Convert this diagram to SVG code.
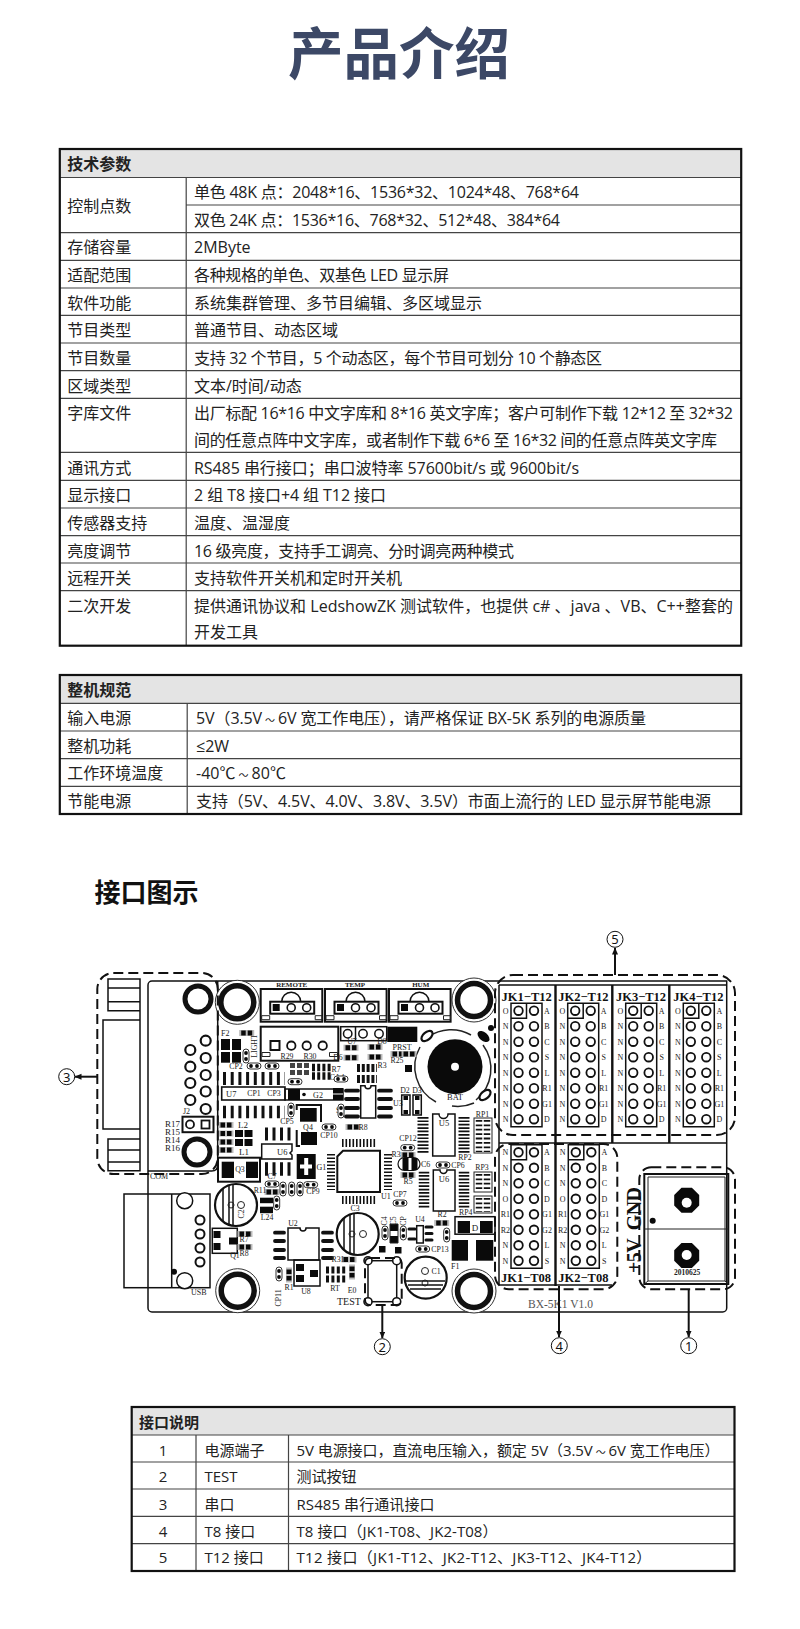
<svg xmlns="http://www.w3.org/2000/svg" width="800" height="1629" viewBox="0 0 800 1629">
<style>
text{font-family:"Open Sans","Noto Sans CJK SC","Noto Sans",sans-serif;font-size:16px;fill:#222}
.h{font-weight:700;font-family:"Noto Sans CJK SC",sans-serif;fill:#222}
.t3{font-size:15px}
.c{text-anchor:middle}
.til{font-size:10px}
.frame{fill:none;stroke:#111;stroke-width:2.2}
.grid{fill:none;stroke:#444;stroke-width:1.2}
.head{fill:#e4e4e4}
.s{font-family:"Liberation Serif",serif;font-size:8px;fill:#222}
.sm{font-family:"Liberation Serif",serif;font-size:7.8px;fill:#222;text-anchor:middle}
.m{text-anchor:middle}
.jk{font-family:"Liberation Serif",serif;font-weight:700;font-size:12.5px;fill:#111;text-anchor:middle}
.l{fill:none;stroke:#111;stroke-width:1.5}
.th{fill:none;stroke:#111;stroke-width:2}
.thin{fill:none;stroke:#222;stroke-width:1}
.k{fill:#0a0a0a}
.dash{fill:none;stroke:#111;stroke-width:2;stroke-dasharray:10 5}
.arrow{fill:none;stroke:#111;stroke-width:2}
.num{fill:#fff;stroke:#111;stroke-width:1}
.numt{font-family:"Noto Sans",sans-serif;font-size:13px;text-anchor:middle;fill:#111}
.comb{fill:none;stroke:#111}
</style>
<defs>
<marker id="ah" markerWidth="8" markerHeight="8" refX="6.5" refY="3" orient="auto" markerUnits="userSpaceOnUse"><path d="M0,0L7,3L0,6z" fill="#111"/></marker>
<g id="pins8">
<g fill="#fff" stroke="#111" stroke-width="1.8">
<circle cx="7.5" cy="0" r="4.3"/><circle cx="23" cy="0" r="4.3"/>
<circle cx="7.5" cy="15.5" r="4.3"/><circle cx="23" cy="15.5" r="4.3"/>
<circle cx="7.5" cy="31" r="4.3"/><circle cx="23" cy="31" r="4.3"/>
<circle cx="7.5" cy="46.5" r="4.3"/><circle cx="23" cy="46.5" r="4.3"/>
<circle cx="7.5" cy="62" r="4.3"/><circle cx="23" cy="62" r="4.3"/>
<circle cx="7.5" cy="77.5" r="4.3"/><circle cx="23" cy="77.5" r="4.3"/>
<circle cx="7.5" cy="93" r="4.3"/><circle cx="23" cy="93" r="4.3"/>
<circle cx="7.5" cy="108.5" r="4.3"/><circle cx="23" cy="108.5" r="4.3"/>
</g>
<path class="l" d="M0-7.5H31V116H0zM0 7.5H15.5V-7.5"/>
</g>
<g id="conn3">
<rect class="th" x="0" y="0" width="61.6" height="32.7"/>
<path class="l" d="M21 12.7a9.5 9.5 0 0 1 19 0"/>
<rect class="th" x="9.5" y="12.7" width="44" height="12"/>
<rect class="k" x="12" y="15" width="7" height="7"/>
<circle cx="30.5" cy="18.7" r="4" fill="#fff" stroke="#111" stroke-width="1.6"/>
<circle cx="46" cy="18.7" r="4" fill="#fff" stroke="#111" stroke-width="1.6"/>
<path class="thin" d="M1 26.7h8v4h-8zM54.5 26.7h7v4h-7z"/>
</g>
<g id="hole">
<circle r="22" fill="#fff" stroke="#333" stroke-width="1"/>
<circle r="16.5" fill="none" stroke="#111" stroke-width="5.5"/>
</g>
<g id="pillH"><rect x="-7" y="-3" width="14" height="6" rx="3" fill="#fff" stroke="#333" stroke-width="1"/><circle cx="-3" r="1.9" class="k"/><circle cx="3" r="1.9" class="k"/></g>
<g id="pillV"><rect x="-3" y="-7" width="6" height="14" rx="3" fill="#fff" stroke="#333" stroke-width="1"/><circle cy="-3" r="1.9" class="k"/><circle cy="3" r="1.9" class="k"/></g>
<g id="padH"><rect x="-7.5" y="-3" width="15" height="6" fill="#bbb"/><rect x="-5.5" y="-2.5" width="4.5" height="5" class="k"/><rect x="1" y="-2.5" width="4.5" height="5" class="k"/></g>
<g id="padV"><rect x="-3" y="-7.5" width="6" height="15" fill="#bbb"/><rect x="-2.5" y="-5.5" width="5" height="4.5" class="k"/><rect x="-2.5" y="1" width="5" height="4.5" class="k"/></g>
</defs>
<rect width="800" height="1629" fill="#fff"/>

<text id="title" x="399" y="74" class="c" style="font-family:'Noto Sans CJK SC',sans-serif;font-size:55.5px;font-weight:700;fill:#3c4866">产品介绍</text>

<g id="table-spec">
<rect class="head" x="59.8" y="149" width="681.4" height="28.5"/>
<path class="grid" d="M59.8 177.5H741M186.2 205H741M59.8 232.7H741M59.8 260.3H741M59.8 288H741M59.8 315.3H741M59.8 343H741M59.8 370.7H741M59.8 398.3H741M59.8 452.3H741M59.8 480.3H741M59.8 508H741M59.8 535.7H741M59.8 563H741M59.8 590.7H741M186.2 177.5V645.7"/>
<rect class="frame" x="59.8" y="149" width="681.4" height="496.7"/>
<text class="h" x="67.3" y="170">技术参数</text>
<text x="67.3" y="212">控制点数</text>
<text x="194" y="198" textLength="385">单色 48K 点：2048*16、1536*32、1024*48、768*64</text>
<text x="194" y="225.6" textLength="366">双色 24K 点：1536*16、768*32、512*48、384*64</text>
<text x="67.3" y="253">存储容量</text><text x="194" y="253">2MByte</text>
<text x="67.3" y="281">适配范围</text><text x="194" y="281" textLength="255">各种规格的单色、双基色 LED 显示屏</text>
<text x="67.3" y="309">软件功能</text><text x="194" y="309">系统集群管理、多节目编辑、多区域显示</text>
<text x="67.3" y="336">节目类型</text><text x="194" y="336">普通节目、动态区域</text>
<text x="67.3" y="364">节目数量</text><text x="194" y="364" textLength="408">支持 32 个节目，5 个动态区，每个节目可划分 10 个静态区</text>
<text x="67.3" y="391.5">区域类型</text><text x="194" y="391.5">文本/时间/动态</text>
<text x="67.3" y="419">字库文件</text><text x="194" y="419" textLength="539">出厂标配 16*16 中文字库和 8*16 英文字库；客户可制作下载 12*12 至 32*32</text>
<text x="194" y="446" textLength="523">间的任意点阵中文字库，或者制作下载 6*6 至 16*32 间的任意点阵英文字库</text>
<text x="67.3" y="473.5">通讯方式</text><text x="194" y="473.5" textLength="385">RS485 串行接口；串口波特率 57600bit/s 或 9600bit/s</text>
<text x="67.3" y="501">显示接口</text><text x="194" y="501" textLength="192">2 组 T8 接口+4 组 T12 接口</text>
<text x="67.3" y="529">传感器支持</text><text x="194" y="529">温度、温湿度</text>
<text x="67.3" y="556.5">亮度调节</text><text x="194" y="556.5" textLength="320">16 级亮度，支持手工调亮、分时调亮两种模式</text>
<text x="67.3" y="584">远程开关</text><text x="194" y="584">支持软件开关机和定时开关机</text>
<text x="67.3" y="612">二次开发</text><text x="194" y="612" textLength="539">提供通讯协议和 LedshowZK 测试软件，也提供 c# 、java 、VB、C++整套的</text>
<text x="194" y="638">开发工具</text>
</g>

<g id="table-machine">
<rect class="head" x="59.8" y="675" width="681.4" height="28.5"/>
<path class="grid" d="M59.8 703.3H741M59.8 731H741M59.8 758.7H741M59.8 786.3H741M187.2 703.3V814"/>
<rect class="frame" x="59.8" y="675" width="681.4" height="139"/>
<text class="h" x="67.3" y="696">整机规范</text>
<text x="67.3" y="724">输入电源</text><text x="196" y="724" textLength="450">5V（3.5V<tspan class="til" dx="3">～</tspan><tspan dx="3">6V 宽工作电压），请严格保证 BX-5K 系列的电源质量</tspan></text>
<text x="67.3" y="751.5">整机功耗</text><text x="196" y="751.5">≤2W</text>
<text x="67.3" y="779">工作环境温度</text><text x="196" y="779" textLength="90">-40℃<tspan class="til" dx="3">～</tspan><tspan dx="3">80℃</tspan></text>
<text x="67.3" y="807">节能电源</text><text x="196" y="807" textLength="515">支持（5V、4.5V、4.0V、3.8V、3.5V）市面上流行的 LED 显示屏节能电源</text>
</g>

<text id="section" x="94.4" y="902" style="font-family:'Noto Sans CJK SC',sans-serif;font-size:26px;font-weight:700;fill:#111">接口图示</text>

<g id="pcb">
<path class="l" d="M148 985a4 4 0 0 1 4-4H726.7V1308a4 4 0 0 1-4 4H152a4 4 0 0 1-4-4z"/>
<path class="l" d="M217.7 981V1165q0 6-6 6H148"/>
<!-- DB9 -->
<path class="l" d="M108 979H140V1010.7H108zM108 988H140M108 1001.7H140M103 1020H140V1129H103zM108 1139H140V1170.7H108zM108 1150H140M108 1162H140M140 979V1171"/>
<g fill="none" stroke="#111" stroke-width="2.2">
<circle cx="190.3" cy="1050" r="5"/><circle cx="190.3" cy="1066.7" r="5"/><circle cx="190.3" cy="1083" r="5"/><circle cx="190.3" cy="1100" r="5"/>
<circle cx="205.7" cy="1040.7" r="5"/><circle cx="205.7" cy="1058" r="5"/><circle cx="205.7" cy="1075" r="5"/><circle cx="205.7" cy="1091.5" r="5"/><circle cx="205.7" cy="1109" r="5"/>
</g>
<circle cx="198" cy="999" r="13" fill="none" stroke="#111" stroke-width="5"/>
<circle cx="197" cy="1152" r="13" fill="none" stroke="#111" stroke-width="5"/>
<rect class="th" x="182.5" y="1116.7" width="31" height="15.5"/>
<circle cx="190" cy="1124.4" r="4" fill="none" stroke="#111" stroke-width="1.8"/><rect x="201.5" y="1120.5" width="8" height="8" fill="none" stroke="#111" stroke-width="1.8"/>
<text class="s" x="183" y="1114">J2</text>
<text class="s" x="165" y="1127" style="font-size:9px">R17</text><text class="s" x="165" y="1135" style="font-size:9px">R15</text><text class="s" x="165" y="1143" style="font-size:9px">R14</text><text class="s" x="165" y="1151" style="font-size:9px">R16</text>
<text class="s" x="150" y="1179">COM</text>
<!-- mounting holes -->
<use href="#hole" x="237.3" y="1002.3"/><use href="#hole" x="474" y="1000"/><use href="#hole" x="237.7" y="1290.7"/><use href="#hole" x="474" y="1291"/>
<!-- 3-pin connectors -->
<use href="#conn3" x="260.7" y="989"/><use href="#conn3" x="325" y="989"/><use href="#conn3" x="389" y="989"/>
<text class="sm" x="291.7" y="987" style="font-weight:700;font-size:7px">REMOTE</text><text class="sm" x="355" y="987" style="font-weight:700;font-size:7px">TEMP</text><text class="sm" x="420.7" y="987" style="font-weight:700;font-size:7px">HUM</text>
<!-- 4-pin connector -->
<rect class="th" x="260.7" y="1026.7" width="77.6" height="34"/>
<rect x="270.5" y="1041" width="9" height="9" fill="none" stroke="#111" stroke-width="2"/>
<g fill="none" stroke="#111" stroke-width="1.8"><circle cx="291.3" cy="1045.7" r="4.2"/><circle cx="306.7" cy="1045.7" r="4.2"/><circle cx="322.7" cy="1045.7" r="4.2"/></g>
<path class="thin" d="M262 1052.5h8v4h-8zM329.5 1052.5h8v4h-8z"/>
<text class="sm" x="0" y="0" transform="translate(257 1046) rotate(-90)">LIGHT</text>
<text class="sm" x="287" y="1059">R29</text><text class="sm" x="310" y="1059">R30</text>
<rect class="l" x="340.7" y="1026.7" width="46" height="14"/><path class="l" d="M355.5 1026.7v14"/>
<g fill="none" stroke="#111" stroke-width="1.5"><circle cx="347.7" cy="1033.7" r="4.2"/><circle cx="363" cy="1033.7" r="4.2"/><circle cx="379" cy="1033.7" r="4.2"/></g>
<rect class="k" x="387.3" y="1026.7" width="30" height="15.3"/>
<!-- buzzer -->
<circle class="k" cx="455" cy="1066.7" r="27.5"/><circle cx="455" cy="1066.7" r="4" fill="#fff"/>
<path class="thin" style="stroke-width:1.5" d="M420 1047a40 40 0 0 0 16 55M428 1037a40 40 0 0 1 43-2M483 1045a40 40 0 0 1-7 55M474 1103a40 40 0 0 1-22 3"/>
<ellipse cx="427" cy="1036" rx="6.5" ry="3.8" fill="#fff" stroke="#111" stroke-width="2.2" transform="rotate(-40 427 1036)"/>
<ellipse cx="483.5" cy="1036.5" rx="7" ry="4.2" class="k" transform="rotate(40 483.5 1036.5)"/>
<ellipse cx="485" cy="1095" rx="6.5" ry="3.8" fill="#fff" stroke="#111" stroke-width="2.2" transform="rotate(-40 485 1095)"/>
<circle class="k" cx="491" cy="1028" r="3"/>
<text class="s m" x="455" y="1100" style="font-size:8.5px">BAT</text>
<!-- upper-left SMD area -->
<text class="s" x="221" y="1036">F2</text><use href="#padH" x="246.7" y="1033"/>
<rect class="k" x="221" y="1039" width="9" height="11"/><rect class="k" x="232" y="1039" width="9" height="11"/><rect class="k" x="221" y="1052" width="9" height="10.7"/><rect class="k" x="232" y="1052" width="9" height="10.7"/>
<use href="#pillV" x="246" y="1056"/><text class="sm" x="236" y="1069">CP2</text><use href="#pillH" x="254" y="1066"/><use href="#pillH" x="272" y="1066"/>
<path class="comb" stroke-width="13" stroke-dasharray="3 4.7" d="M223 1078.5H285"/>
<rect class="th" x="221.7" y="1087" width="63.3" height="13" style="stroke-width:1.6"/>
<text class="s" x="226" y="1097" style="font-size:8.5px">U7</text><text class="sm" x="254" y="1096">CP1</text><text class="sm" x="274" y="1096">CP3</text>
<path class="comb" stroke-width="12.5" stroke-dasharray="3 4.7" d="M223 1112H285"/>
<rect class="l" x="285" y="1089" width="58" height="11"/><rect class="k" x="288" y="1089" width="12" height="11"/><circle class="k" cx="304" cy="1094.5" r="1.8"/><rect class="k" x="333" y="1088" width="10" height="12"/><path d="M333 1094h10" stroke="#fff" stroke-width="1"/>
<text class="s m" x="318" y="1098">G2</text>
<use href="#pillH" x="295" y="1081.7"/><use href="#pillV" x="291" y="1110"/><text class="sm" x="287" y="1124">CP5</text>
<g fill="#444"><rect x="290" y="1063" width="5" height="5"/><rect x="297" y="1063" width="5" height="5"/><rect x="304" y="1063" width="5" height="5"/><rect x="290" y="1070" width="5" height="5"/><rect x="297" y="1070" width="5" height="5"/><rect x="304" y="1070" width="5" height="5"/></g>
<path class="comb" stroke-width="7.5" stroke-dasharray="3 2.2" d="M312 1067.5H332M312 1076H332"/>
<text class="sm" x="336" y="1072">R7</text><text class="sm" x="337" y="1080">CA4</text><use href="#pillH" x="341" y="1079"/>
<path class="th" d="M296.7 1110V1105H321V1122M296.7 1130V1146H300"/>
<rect class="k" x="300" y="1108" width="16.7" height="13.7"/><rect class="k" x="301" y="1132" width="16" height="13"/>
<text class="s m" x="308" y="1130">Q4</text>
<text class="s m" x="243" y="1128" style="font-size:9px">L2</text>
<g class="k"><rect x="235" y="1130" width="8" height="7"/><rect x="244.5" y="1130" width="8" height="7"/><rect x="235" y="1139" width="8" height="7"/><rect x="244.5" y="1139" width="8" height="7"/></g>
<text class="s m" x="244" y="1155" style="font-size:9px">L1</text>
<use href="#padH" x="226" y="1125"/><use href="#padH" x="226" y="1133.5"/><use href="#padH" x="226" y="1142"/><use href="#padH" x="226" y="1150"/>
<path class="comb" stroke-width="13" stroke-dasharray="3 4.5" d="M265 1134H293"/>
<path class="l" d="M261.7 1147V1144H292V1151L290 1153L292 1155V1159H261.7z"/>
<text class="s" x="277" y="1155" style="font-size:8.5px">U6</text>
<path class="comb" stroke-width="13.5" stroke-dasharray="3 4.5" d="M265 1169H293"/>
<rect class="th" x="218" y="1157.7" width="42" height="24"/>
<rect class="k" x="221.7" y="1161.7" width="12.3" height="16.3"/><rect class="k" x="246" y="1161.7" width="12" height="16.3"/>
<text class="sm" x="240" y="1172">Q3</text>
<rect class="k" x="296.7" y="1154" width="19" height="25"/><path d="M306.2 1158V1175M300 1166.5H312" stroke="#fff" stroke-width="4" fill="none"/>
<text class="s" x="316.5" y="1170">G1</text>
<text class="sm" x="272" y="1179">C7</text><use href="#pillH" x="272" y="1184"/><use href="#padH" x="272" y="1192"/><text class="sm" x="260" y="1193">R11</text>
<use href="#pillV" x="283" y="1189"/><use href="#pillV" x="291.7" y="1189"/><use href="#pillV" x="300" y="1189"/><use href="#pillH" x="310.7" y="1184.7"/><text class="sm" x="313" y="1194">CP9</text>
<rect class="k" x="260" y="1197.7" width="13" height="5.5"/><rect class="k" x="260" y="1206.7" width="13" height="6.5"/>
<text class="sm" x="267" y="1220">L24</text><use href="#pillV" x="276.7" y="1203"/>
<!-- U1 -->
<path class="th" d="M343 1150.7H380V1192H337.3V1156.5z"/>
<path class="comb" stroke-width="8" stroke-dasharray="1.6 1.9" d="M342 1143H376M342 1200H376"/>
<path class="comb" stroke-width="8" stroke-dasharray="1.6 1.9" d="M331 1154V1190M388 1154V1190"/>
<text class="s" x="381" y="1199">U1</text>
<!-- U3 area -->
<path class="l" d="M360.7 1085.7H365a3 3 0 0 0 6 0H375.7V1118H360.7z"/>
<path d="M346 1090.7H358M346 1099H358M346 1108H358M346 1116.5H358M379 1090.7H391M379 1099H391M379 1108H391M379 1116.5H391" fill="none" stroke="#111" stroke-width="3.8" stroke-linecap="round"/>
<text class="s" x="393" y="1106">U3</text>
<text class="sm" x="340" y="1113">S6</text><use href="#pillV" x="341" y="1111"/><use href="#pillH" x="329" y="1127"/><use href="#padH" x="353" y="1127"/><text class="sm" x="363" y="1130">R8</text><text class="sm" x="329" y="1138">CP10</text>
<use href="#padH" x="351" y="1047.7"/><use href="#padH" x="351" y="1057.7"/><use href="#padH" x="375" y="1047"/><use href="#padH" x="375" y="1057"/>
<text class="sm" x="352" y="1044">U7</text><text class="sm" x="382" y="1044">D8</text><text class="sm" x="338" y="1060">D6</text>
<path class="comb" stroke-width="8" stroke-dasharray="3 1.8" d="M357 1068H377M357 1079H377"/>
<text class="sm" x="382" y="1068">R3</text>
<text class="sm" x="402" y="1050" style="font-size:8px">PRST</text><use href="#padH" x="398" y="1054"/><text class="sm" x="397" y="1063">R25</text><use href="#padH" x="409" y="1054"/><rect class="k" x="405" y="1065" width="7" height="7"/>
<rect class="l" x="401.7" y="1095" width="8.3" height="20"/><rect class="l" x="413" y="1095" width="8.3" height="20"/>
<rect class="k" x="403.5" y="1096" width="4.5" height="4"/><rect class="k" x="403.5" y="1110" width="4.5" height="4"/><rect class="k" x="415" y="1096" width="4.5" height="4"/><rect class="k" x="415" y="1110" width="4.5" height="4"/>
<text class="sm" x="405" y="1093">D2</text><text class="sm" x="417" y="1093">D3</text>
<!-- U5 -->
<path class="l" d="M432.7 1114H439a4 4 0 0 0 9 0H455V1156H432.7z"/><text class="s m" x="444" y="1126" style="font-size:8.5px">U5</text>
<path class="comb" stroke-width="11" stroke-dasharray="1.7 1.7" d="M423 1117V1154M464 1117V1154"/>
<text class="sm" x="408" y="1141">CP12</text><use href="#pillH" x="407.7" y="1147.7"/><use href="#padH" x="408" y="1155"/><text class="sm" x="396" y="1157">R3</text>
<rect x="398" y="1157.5" width="22" height="13" rx="6.5" fill="#fff" stroke="#111" stroke-width="1.2"/><rect class="k" x="402.5" y="1158" width="6" height="12"/><rect class="k" x="411.5" y="1158" width="6" height="12"/>
<text class="s" x="421" y="1167">C6</text><use href="#padH" x="408" y="1175"/><text class="sm" x="408" y="1184">R5</text>
<use href="#pillH" x="400" y="1203"/><text class="sm" x="400" y="1197">CP7</text>
<!-- U6 right -->
<use href="#pillH" x="443" y="1165"/><text class="sm" x="458" y="1168">CP6</text>
<path class="l" d="M433.3 1170H440a3.5 3.5 0 0 0 7 0H455V1211H433.3z"/><text class="s m" x="444" y="1182" style="font-size:8.5px">U6</text>
<path class="comb" stroke-width="10.5" stroke-dasharray="1.7 1.7" d="M424 1171.7V1209M464 1171.7V1209"/>
<text class="sm" x="482.5" y="1117">RP1</text><text class="sm" x="465" y="1160">RP2</text><text class="sm" x="482" y="1170">RP3</text><text class="sm" x="465.7" y="1215">RP4</text>
<rect class="thin" x="474" y="1118" width="18" height="35" fill="none"/><rect class="thin" x="474" y="1172" width="18" height="20"/><rect class="thin" x="474" y="1196" width="18" height="17"/>
<path class="comb" stroke-width="6.5" stroke-dasharray="1.8 2.6" d="M479 1120V1152M487 1120V1152M479 1174V1191M487 1174V1191M479 1198V1212M487 1198V1212"/>
<text class="sm" x="442" y="1217">R2</text><use href="#padH" x="441.7" y="1223"/>
<rect class="l" x="455" y="1216.7" width="40" height="17.5"/><rect class="k" x="457.7" y="1221" width="12.3" height="12"/><rect class="k" x="480" y="1221" width="12.7" height="12"/><text class="s m" x="475" y="1231" style="font-size:9px">D</text>
<rect class="k" x="451.7" y="1240" width="16.3" height="20.7"/><rect class="k" x="476" y="1240" width="17.3" height="20.7"/><text class="s" x="451" y="1269">F1</text>
<use href="#pillV" x="385" y="1233"/><use href="#pillV" x="403.3" y="1233"/>
<rect class="k" x="390" y="1224" width="8" height="7"/><rect class="k" x="390" y="1236" width="8" height="7"/><path class="thin" d="M390 1224h8v19h-8z"/>
<text class="sm" x="0" y="0" transform="translate(387 1221) rotate(-90)">C4</text><text class="sm" x="0" y="0" transform="translate(396 1221) rotate(-90)">C5</text><text class="sm" x="0" y="0" transform="translate(406 1221) rotate(-90)">CP</text>
<rect class="l" x="416.7" y="1225.7" width="6.6" height="17.3"/><text class="sm" x="420" y="1222">U4</text>
<path d="M409 1229h6M409 1239h6M426 1227h6M426 1233.5h6M426 1240h6" fill="none" stroke="#111" stroke-width="3" stroke-linecap="round"/>
<use href="#pillH" x="422.7" y="1249"/><text class="sm" x="440" y="1252">CP13</text><use href="#pillV" x="446.7" y="1235"/>
<rect class="k" x="379" y="1246" width="6.5" height="6.5"/><rect class="k" x="395" y="1247" width="6.5" height="6.5"/>
<!-- capacitors -->
<circle class="th" cx="236" cy="1205" r="21" style="stroke-width:2.2;fill:#fff"/><path class="l" d="M223 1189V1221M229 1186V1224M233 1185V1225"/><circle class="thin" cx="231" cy="1205" r="3"/><circle class="thin" cx="241" cy="1205" r="3.5"/>
<text class="sm" x="0" y="0" transform="translate(244 1214) rotate(-90)">C2</text>
<circle class="th" cx="357.7" cy="1234" r="21" style="stroke-width:2.2;fill:#fff"/><path class="l" d="M344 1218V1250M350 1215V1253M354 1214V1254"/><circle class="thin" cx="352" cy="1234" r="3"/><circle class="thin" cx="363" cy="1234" r="3.5"/>
<text class="sm" x="355" y="1211">C3</text>
<circle class="th" cx="425.7" cy="1277.7" r="21" style="stroke-width:2.2;fill:#fff"/><path class="l" d="M406 1281H445M408 1285H443M410 1289H441"/><circle class="thin" cx="425" cy="1271" r="3.5"/><circle class="thin" cx="425" cy="1283" r="3"/>
<text class="sm" x="436" y="1274">C1</text>
<!-- U2 / Q1 / U8 -->
<path class="l" d="M288 1228H300a3 3 0 0 0 6 0H319V1260H288z"/><text class="sm" x="293" y="1226">U2</text>
<path d="M275 1232.7H284M275 1241H284M275 1250H284M275 1258H284M323 1232.7H332M323 1241H332M323 1250H332M323 1258H332" fill="none" stroke="#111" stroke-width="3.8" stroke-linecap="round"/>
<rect class="l" x="212.3" y="1228.3" width="25" height="25"/><rect class="k" x="213.5" y="1231" width="7" height="7"/><rect class="k" x="213.5" y="1243" width="7" height="7"/><rect class="k" x="229" y="1237.5" width="8" height="7"/>
<use href="#padH" x="245" y="1234"/><use href="#padH" x="245" y="1247"/><text class="sm" x="244" y="1242">R7</text><text class="sm" x="244" y="1256">R8</text><text class="sm" x="235" y="1258">Q1</text>
<rect class="l" x="294" y="1260" width="26" height="26" /><rect class="k" x="296" y="1264" width="8" height="7"/><rect class="k" x="296" y="1275" width="8" height="7"/><rect class="k" x="310" y="1270" width="8" height="7"/>
<text class="sm" x="306" y="1294">U8</text>
<use href="#pillV" x="279" y="1274"/><text class="sm" x="0" y="0" transform="translate(281 1298) rotate(-90)">CP11</text><use href="#padV" x="289" y="1275"/><text class="sm" x="289" y="1290">R1</text>
<path class="comb" stroke-width="7" stroke-dasharray="3 2.4" d="M326 1270H347M326 1279H347"/><text class="sm" x="335" y="1291">RT</text>
<use href="#padV" x="352" y="1272"/><text class="sm" x="352" y="1293">E0</text><use href="#padH" x="349" y="1259.5"/><text class="sm" x="338" y="1262">R31</text>
<!-- USB -->
<rect class="l" x="124" y="1194" width="86" height="93.7"/><path class="l" d="M171.7 1194V1287.7"/>
<circle cx="184.7" cy="1200.7" r="8" fill="#fff" stroke="#111" stroke-width="1.5"/><circle cx="184.7" cy="1280.7" r="8" fill="#fff" stroke="#111" stroke-width="1.5"/>
<g fill="none" stroke="#111" stroke-width="2"><circle cx="200" cy="1220" r="4.5"/><circle cx="200" cy="1234" r="4.5"/><circle cx="200" cy="1248" r="4.5"/><circle cx="200" cy="1262" r="4.5"/></g>
<circle class="k" cx="174" cy="1271.7" r="3"/><text class="s" x="191" y="1295">USB</text>
<!-- test -->
<rect class="l" x="368" y="1260.7" width="28.7" height="41"/>
<g fill="#fff" stroke="#111" stroke-width="1.6"><circle cx="368" cy="1260.7" r="4"/><circle cx="396.7" cy="1260.7" r="4"/><circle cx="368" cy="1301.7" r="4"/><circle cx="396.7" cy="1301.7" r="4"/></g>
<text class="s" x="337" y="1305" style="font-size:10px">TEST</text>
<!-- T12 block -->
<path class="l" d="M499 985H726.7M499 985V1285M499 1143H726.7"/>
<path d="M555.5 985V1286M612.3 985V1143M669.3 985V1143" fill="none" stroke="#111" stroke-width="2.4"/>
<text class="jk" x="526.7" y="1001">JK1−T12</text><text class="jk" x="583.3" y="1001">JK2−T12</text><text class="jk" x="641" y="1001">JK3−T12</text><text class="jk" x="698.3" y="1001">JK4−T12</text>
<g id="jk1-t12" transform="translate(511 1010.7)"><use href="#pins8"/>
<text class="s m" x="-5.3" y="3">O</text><text class="s m" x="-5.3" y="18.5">N</text><text class="s m" x="-5.3" y="34">N</text><text class="s m" x="-5.3" y="49.5">N</text><text class="s m" x="-5.3" y="65">N</text><text class="s m" x="-5.3" y="80.5">N</text><text class="s m" x="-5.3" y="96">N</text><text class="s m" x="-5.3" y="111.5">N</text>
<text class="s m" x="36" y="3">A</text><text class="s m" x="36" y="18.5">B</text><text class="s m" x="36" y="34">C</text><text class="s m" x="36" y="49.5">S</text><text class="s m" x="36" y="65">L</text><text class="s m" x="36" y="80.5">R1</text><text class="s m" x="36" y="96">G1</text><text class="s m" x="36" y="111.5">D</text></g>
<g id="jk2-t12" transform="translate(567.7 1010.7)"><use href="#pins8"/>
<text class="s m" x="-5.3" y="3">O</text><text class="s m" x="-5.3" y="18.5">N</text><text class="s m" x="-5.3" y="34">N</text><text class="s m" x="-5.3" y="49.5">N</text><text class="s m" x="-5.3" y="65">N</text><text class="s m" x="-5.3" y="80.5">N</text><text class="s m" x="-5.3" y="96">N</text><text class="s m" x="-5.3" y="111.5">N</text>
<text class="s m" x="36" y="3">A</text><text class="s m" x="36" y="18.5">B</text><text class="s m" x="36" y="34">C</text><text class="s m" x="36" y="49.5">S</text><text class="s m" x="36" y="65">L</text><text class="s m" x="36" y="80.5">R1</text><text class="s m" x="36" y="96">G1</text><text class="s m" x="36" y="111.5">D</text></g>
<g id="jk3-t12" transform="translate(625.7 1010.7)"><use href="#pins8"/>
<text class="s m" x="-5.3" y="3">O</text><text class="s m" x="-5.3" y="18.5">N</text><text class="s m" x="-5.3" y="34">N</text><text class="s m" x="-5.3" y="49.5">N</text><text class="s m" x="-5.3" y="65">N</text><text class="s m" x="-5.3" y="80.5">N</text><text class="s m" x="-5.3" y="96">N</text><text class="s m" x="-5.3" y="111.5">N</text>
<text class="s m" x="36" y="3">A</text><text class="s m" x="36" y="18.5">B</text><text class="s m" x="36" y="34">C</text><text class="s m" x="36" y="49.5">S</text><text class="s m" x="36" y="65">L</text><text class="s m" x="36" y="80.5">R1</text><text class="s m" x="36" y="96">G1</text><text class="s m" x="36" y="111.5">D</text></g>
<g id="jk4-t12" transform="translate(683.3 1010.7)"><use href="#pins8"/>
<text class="s m" x="-5.3" y="3">O</text><text class="s m" x="-5.3" y="18.5">N</text><text class="s m" x="-5.3" y="34">N</text><text class="s m" x="-5.3" y="49.5">N</text><text class="s m" x="-5.3" y="65">N</text><text class="s m" x="-5.3" y="80.5">N</text><text class="s m" x="-5.3" y="96">N</text><text class="s m" x="-5.3" y="111.5">N</text>
<text class="s m" x="36" y="3">A</text><text class="s m" x="36" y="18.5">B</text><text class="s m" x="36" y="34">C</text><text class="s m" x="36" y="49.5">S</text><text class="s m" x="36" y="65">L</text><text class="s m" x="36" y="80.5">R1</text><text class="s m" x="36" y="96">G1</text><text class="s m" x="36" y="111.5">D</text></g>
<!-- T08 block -->
<path class="l" d="M499 1285H612"/>
<g id="jk1-t08" transform="translate(511 1152.3)"><use href="#pins8"/>
<text class="s m" x="-5.7" y="3">N</text><text class="s m" x="-5.7" y="18.5">N</text><text class="s m" x="-5.7" y="34">N</text><text class="s m" x="-5.7" y="49.5">O</text><text class="s m" x="-5.7" y="65">R1</text><text class="s m" x="-5.7" y="80.5">R2</text><text class="s m" x="-5.7" y="96">N</text><text class="s m" x="-5.7" y="111.5">N</text>
<text class="s m" x="36" y="3">A</text><text class="s m" x="36" y="18.5">B</text><text class="s m" x="36" y="34">C</text><text class="s m" x="36" y="49.5">D</text><text class="s m" x="36" y="65">G1</text><text class="s m" x="36" y="80.5">G2</text><text class="s m" x="36" y="96">L</text><text class="s m" x="36" y="111.5">S</text></g>
<g id="jk2-t08" transform="translate(568.3 1152.3)"><use href="#pins8"/>
<text class="s m" x="-5.7" y="3">N</text><text class="s m" x="-5.7" y="18.5">N</text><text class="s m" x="-5.7" y="34">N</text><text class="s m" x="-5.7" y="49.5">O</text><text class="s m" x="-5.7" y="65">R1</text><text class="s m" x="-5.7" y="80.5">R2</text><text class="s m" x="-5.7" y="96">N</text><text class="s m" x="-5.7" y="111.5">N</text>
<text class="s m" x="36" y="3">A</text><text class="s m" x="36" y="18.5">B</text><text class="s m" x="36" y="34">C</text><text class="s m" x="36" y="49.5">D</text><text class="s m" x="36" y="65">G1</text><text class="s m" x="36" y="80.5">G2</text><text class="s m" x="36" y="96">L</text><text class="s m" x="36" y="111.5">S</text></g>
<text class="jk" x="526" y="1282">JK1−T08</text><text class="jk" x="583.3" y="1282">JK2−T08</text>
<text x="528" y="1308" style="font-family:'Liberation Serif',serif;font-size:11.5px;fill:#555">BX-5K1  V1.0</text>
<text x="0" y="0" transform="translate(641 1273) rotate(-90)" style="font-family:'Liberation Serif',serif;font-size:20px;font-weight:700;fill:#111" textLength="86" xml:space="preserve">+5V  GND</text>
<!-- power terminal -->
<rect class="th" x="644.3" y="1174" width="84" height="110"/><path class="thin" d="M648 1177V1281H725V1177H648M644.3 1229H728.3M644.3 1284L648 1281M728.3 1284L725 1281"/>
<path d="M681.5 1190.7h10.4l7.3 7.3v10.4l-7.3 7.3h-10.4l-7.3-7.3V1198z" class="k" transform="translate(0 -3)"/><circle cx="686.7" cy="1202.7" r="5" fill="#fff"/>
<path d="M681.5 1243h10.4l7.3 7.3v10.4l-7.3 7.3h-10.4l-7.3-7.3V1250.3z" class="k"/><circle cx="686.7" cy="1255" r="5" fill="#fff"/>
<circle class="k" cx="652.7" cy="1220.7" r="3"/>
<text class="sm" x="687" y="1275" style="font-size:7.5px;font-weight:700">2010625</text>
</g>

<g id="connectors">
<rect class="dash" x="97.3" y="973" width="120.5" height="201" rx="16"/>
<rect class="dash" x="495" y="975" width="240" height="160" rx="18"/>
<rect class="dash" x="495" y="1144" width="122.3" height="145.3" rx="14"/>
<rect class="dash" x="639.3" y="1167.3" width="95.7" height="122" rx="12"/>
<rect class="dash" x="365" y="1258" width="36.7" height="47" rx="5"/>
<path class="arrow" marker-end="url(#ah)" d="M97 1076.7H75"/>
<path class="arrow" marker-end="url(#ah)" d="M615 975V948"/>
<path class="arrow" marker-end="url(#ah)" d="M559 1286V1337"/>
<path class="arrow" marker-end="url(#ah)" d="M688.7 1289V1337"/>
<path class="arrow" marker-end="url(#ah)" d="M382.3 1304V1338"/>
</g>
<g id="label-3"><circle class="num" cx="66.7" cy="1076.7" r="8"/><text class="numt" x="66.7" y="1081.5">3</text></g>
<g id="label-5"><circle class="num" cx="615" cy="939.3" r="8"/><text class="numt" x="615" y="944">5</text></g>
<g id="label-4"><circle class="num" cx="559.3" cy="1345.7" r="8"/><text class="numt" x="559.3" y="1350.5">4</text></g>
<g id="label-1"><circle class="num" cx="688.7" cy="1345.7" r="8"/><text class="numt" x="688.7" y="1350.5">1</text></g>
<g id="label-2"><circle class="num" cx="382.3" cy="1346.7" r="8"/><text class="numt" x="382.3" y="1351.5">2</text></g>

<g id="table-ports">
<rect class="head" x="131.7" y="1407" width="602.8" height="28"/>
<path class="grid" d="M131.7 1435H734.5M131.7 1462H734.5M131.7 1489H734.5M131.7 1516.3H734.5M131.7 1543.7H734.5M196 1435V1571M288.5 1435V1571"/>
<rect class="frame" x="131.7" y="1407" width="602.8" height="164"/>
<text class="h t3" x="139" y="1428">接口说明</text>
<text class="t3 c" x="163" y="1455.5">1</text><text class="t3" x="204.4" y="1455.5">电源端子</text><text class="t3" x="296.5" y="1455.5" textLength="423">5V 电源接口，直流电压输入，额定 5V（3.5V<tspan class="til" dx="3">～</tspan><tspan dx="3">6V 宽工作电压）</tspan></text>
<text class="t3 c" x="163" y="1482">2</text><text class="t3" x="204.4" y="1482">TEST</text><text class="t3" x="296.5" y="1482">测试按钮</text>
<text class="t3 c" x="163" y="1509.5">3</text><text class="t3" x="204.4" y="1509.5">串口</text><text class="t3" x="296.5" y="1509.5" textLength="138">RS485 串行通讯接口</text>
<text class="t3 c" x="163" y="1536.5">4</text><text class="t3" x="204.4" y="1536.5">T8 接口</text><text class="t3" x="296.5" y="1536.5" textLength="201">T8 接口（JK1-T08、JK2-T08）</text>
<text class="t3 c" x="163" y="1563">5</text><text class="t3" x="204.4" y="1563">T12 接口</text><text class="t3" x="296.5" y="1563" textLength="354.8">T12 接口（JK1-T12、JK2-T12、JK3-T12、JK4-T12）</text>
</g>
</svg>
